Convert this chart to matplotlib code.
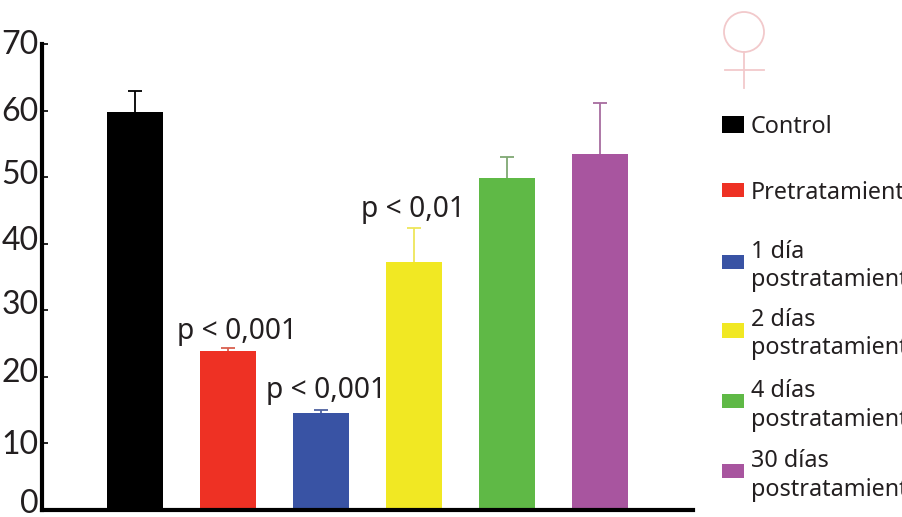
import matplotlib
matplotlib.use('Agg')
import matplotlib.pyplot as plt
from matplotlib.patches import Circle, Rectangle
from matplotlib.transforms import ScaledTranslation

# values
groups = ['Control', 'Pretratamiento', '1 día\npostratamiento', '2 días\npostratamiento',
          '4 días\npostratamiento', '30 días\npostratamiento']
means = [59.8, 23.9, 14.6, 37.25, 49.9, 53.5]
errors = [3.1, 0.4, 0.4, 5.1, 3.1, 7.6]
colors = ['#000000', '#ee3124', '#3953a4', '#f1e823', '#5fb946', '#a8559f']
err_colors = ['#000000', '#d9604f', '#4f62a0', '#eee65a', '#7fa873', '#a76c9f']
y_ticks = [0, 10, 20, 30, 40, 50, 60, 70]
p_labels = ['p < 0,001', 'p < 0,001', 'p < 0,01']

W, H = 903, 517
fig = plt.figure(figsize=(W / 100, H / 100), dpi=100)
ax = fig.add_axes([42 / W, 1 - 510 / H, (693 - 42) / W, (510 - 44) / H])

# bars with upward error bars only
x = range(len(means))
ax.bar(x, means, width=0.6, color=colors, zorder=2)
for i in x:
    eb = ax.errorbar(i, means[i], yerr=[[0], [errors[i]]], color=err_colors[i], elinewidth=1.3,
                     capsize=5, capthick=1.3, zorder=1)
    eb[1][0].set_visible(False)  # no lower cap

ax.set_xlim(-1, 6)
ax.set_ylim(0, 70)
ax.set_xticks([])
ax.set_yticks(y_ticks)
ax.spines['top'].set_visible(False)
ax.spines['right'].set_visible(False)
ax.spines['left'].set_linewidth(3)
ax.spines['bottom'].set_linewidth(3)
ax.tick_params(axis='y', direction='in', length=4.5, width=1.2, pad=2.5, labelsize=23)

# the tick labels sit a bit unevenly in the original
offsets = [9, 1, 7, 8, 6, 5, 2, 2]
for lab, off in zip(ax.get_yticklabels(), offsets):
    lab.set_family('Lato')
    lab.set_color('#231f20')
    lab.set_transform(lab.get_transform() + ScaledTranslation(0, off / 100, fig.dpi_scale_trans))

# overlay in pixel coordinates for the annotations and the legend
over = fig.add_axes([0, 0, 1, 1])
over.set_xlim(0, W)
over.set_ylim(H, 0)
over.axis('off')

p_pos = [(177, 339), (266, 398), (361, 217)]
for txt, pos in zip(p_labels, p_pos):
    over.text(pos[0], pos[1], txt, family='Noto Sans', fontsize=20.3, color='#231f20', va='baseline')

# legend
swatch_y = [116, 183, 255, 323, 394, 464]
swatch_h = [17, 14, 14, 15, 14, 14]
text_y = [133, 199, 258, 326, 397, 467]
for i in x:
    over.add_patch(Rectangle((722, swatch_y[i]), 22, swatch_h[i], color=colors[i], lw=0))
    lines = groups[i].split('\n')
    for j, line in enumerate(lines):
        over.text(751, text_y[i] + j * 28.5, line, family='Noto Sans', fontsize=16.8,
                  color='#231f20', va='baseline')

# female symbol
pink = '#f2c9cb'
over.add_patch(Circle((744, 32), 20, fill=False, ec=pink, lw=1.3))
over.plot([744, 744], [52, 88], color=pink, lw=1.3)
over.plot([725, 764], [70, 70], color=pink, lw=1.3)
over.set_xlim(0, W)
over.set_ylim(H, 0)

fig.savefig('out.png', dpi=100)
